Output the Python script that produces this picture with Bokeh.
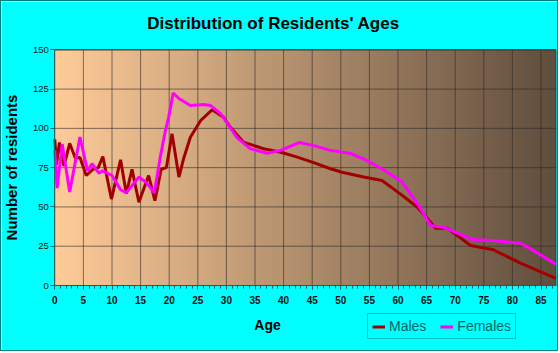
import numpy as np
from bokeh.plotting import figure
from bokeh.models import Range1d, SingleIntervalTicker, Label, Legend, LegendItem, FixedTicker
from bokeh.embed import file_html
from bokeh.resources import INLINE

# ---- data ----
male_ages = [0, 0.3, 0.8, 1.6, 2.6, 3.6, 4.4, 5.5, 6.7, 7.6, 8.4, 9.9, 11.5, 12.5, 13.5,
             14.7, 16.4, 17.5, 18.6, 19.5, 20.5, 21.7, 22.5, 23.7, 25.5, 27.5, 29.5, 30.7,
             33.0, 36.5, 39.5, 42.4, 45.0, 48.2, 50.2, 54.0, 57.2, 60.4, 63.4, 66.6, 68.6,
             72.7, 76.7, 81.4, 87.6]
male_vals = [93, 77, 91, 76, 90.5, 81, 81.5, 70, 74, 75, 82, 55, 80, 58.5, 74,
             53, 70, 54, 74, 75, 96.5, 69, 80.5, 94.3, 105, 111.8, 107, 100.7,
             91.2, 87, 84.8, 81.7, 78.5, 74.3, 72.1, 69, 66.8, 58.3, 49.8, 36.5, 36.5,
             25.5, 22.7, 14.2, 4.5]

female_ages = [0, 0.4, 1.3, 2.6, 4.4, 5.7, 6.5, 7.7, 8.4, 10.0, 11.5, 12.5, 14.7, 16.0,
               17.4, 18.5, 19.4, 19.9, 20.7, 21.7, 23.7, 26.0, 27.2, 29.0, 31.9, 34.2,
               37.1, 39.5, 42.7, 45.3, 48.2, 51.7, 54.0, 57.3, 60.7, 63.4, 65.7, 68.0,
               73.0, 76.7, 81.4, 83.2, 87.6]
female_vals = [86, 62, 90, 59.5, 94.5, 73, 77.5, 71.5, 73, 70, 61, 59, 69, 65.5,
               59, 83, 99.6, 107, 122.5, 119, 114.6, 115.2, 114.6, 109.3, 94, 87,
               84.2, 86, 91, 89, 86, 84, 80.6, 74, 66, 52, 38.2, 37,
               29.3, 28.6, 26.9, 23.3, 13.5]

x_ticks = [0, 5, 10, 15, 20, 25, 30, 35, 40, 45, 50, 55, 60, 65, 70, 75, 80, 85]
y_ticks = [0, 25, 50, 75, 100, 125, 150]
x_max = 87.6
y_max = 150

FONT = "Liberation Sans"

# the frame covers the whole canvas; the plotting area is the 0..x_max, 0..y_max region
W, H = 558, 351
left_px, zero_px = 53.3, 284.0
sx = 5.72
sy = 235.7 / 150
x_start = -left_px / sx
x_end = (W - left_px) / sx
y_end = y_max + (zero_px - 235.7) / sy
y_start = -(H - zero_px) / sy

p = figure(width=W, height=H, output_backend="svg", toolbar_location=None,
           x_range=Range1d(x_start, x_end), y_range=Range1d(y_start, y_end),
           min_border=0, min_border_left=0, min_border_right=0,
           min_border_top=0, min_border_bottom=0)
p.styles = {"border": "1px solid #008080"}
p.background_fill_color = "#00FFFF"
p.border_fill_color = "#00FFFF"
p.outline_line_color = None
p.xgrid.visible = False
p.ygrid.visible = False

# gradient background of the plotting area
NC = 200
c0 = np.array([255, 204, 153], dtype=float)
c1 = np.array([96, 78, 62], dtype=float)
t = np.linspace(0, 1, NC)
cols = (c0[None, :] * (1 - t[:, None]) + c1[None, :] * t[:, None]).astype(np.uint8)
img = np.empty((2, NC), dtype=np.uint32)
view = img.view(dtype=np.uint8).reshape((2, NC, 4))
for r in range(2):
    view[r, :, 0] = cols[:, 0]
    view[r, :, 1] = cols[:, 1]
    view[r, :, 2] = cols[:, 2]
    view[r, :, 3] = 255
p.image_rgba(image=[img], x=0, y=0, dw=x_max, dh=y_max, level="image")

# grid lines limited to the plotting area
GRID = "#2e2a26"
p.segment(x0=x_ticks, y0=[0] * len(x_ticks), x1=x_ticks, y1=[y_max] * len(x_ticks),
          line_color=GRID, line_alpha=0.6, line_width=1, level="underlay")
p.segment(x0=[0] * len(y_ticks), y0=y_ticks, x1=[x_max] * len(y_ticks), y1=y_ticks,
          line_color=GRID, line_alpha=0.6, line_width=1, level="underlay")
p.segment(x0=[x_max], y0=[0], x1=[x_max], y1=[y_max],
          line_color="#3a332c", line_width=1, level="underlay")
p.segment(x0=[0], y0=[y_max], x1=[x_max], y1=[y_max],
          line_color="#3a332c", line_width=1, level="underlay")

# axes at fixed locations
p.xaxis.fixed_location = 0
p.yaxis.fixed_location = 0
p.xaxis.bounds = (0, x_max)
p.yaxis.bounds = (0, y_max)
p.xaxis.ticker = SingleIntervalTicker(interval=5, num_minor_ticks=5)
p.yaxis.ticker = FixedTicker(ticks=y_ticks)
for ax in (p.xaxis, p.yaxis):
    ax.axis_line_color = "#1f5f5f"
    ax.major_tick_line_color = "#1f5f5f"
    ax.minor_tick_line_color = "#1f5f5f"
    ax.major_tick_in = 0
    ax.major_tick_out = 4
    ax.minor_tick_in = 0
    ax.minor_tick_out = 3
    ax.major_label_text_font = FONT
    ax.major_label_text_color = "#111111"
    ax.axis_label_text_font = FONT
    ax.axis_label_text_font_style = "bold"
    ax.axis_label_text_color = "#000000"
p.yaxis.minor_tick_out = 0
p.xaxis.major_label_text_font_size = "10px"
p.xaxis.major_label_text_font_style = "bold"
p.yaxis.major_label_text_font_size = "9.5px"
p.xaxis.major_label_standoff = 6
p.yaxis.major_label_standoff = 2
p.yaxis.axis_label = "Number of residents"
p.yaxis.axis_label_text_font_size = "15px"
p.yaxis.axis_label_standoff = 10

# lines
rm = p.line(male_ages, male_vals, line_color="#A00000", line_width=3)
rf = p.line(female_ages, female_vals, line_color="#FF00FF", line_width=3)

# texts
title = Label(x=(272 - left_px) / sx, y=(zero_px - 22) / sy,
              text="Distribution of Residents' Ages",
              text_font=FONT, text_font_size="17px", text_font_style="bold",
              text_color="#000000", text_align="center", text_baseline="middle")
p.add_layout(title)
age_label = Label(x=(266 - left_px) / sx, y=(zero_px - 323) / sy, text="Age",
                  text_font=FONT, text_font_size="14px", text_font_style="bold",
                  text_color="#000000", text_align="center", text_baseline="middle")
p.add_layout(age_label)

legend = Legend(items=[LegendItem(label="Males", renderers=[rm]),
                       LegendItem(label="Females", renderers=[rf])],
                orientation="horizontal", location=(366, 13))
legend.label_text_font = FONT
legend.label_text_font_size = "14px"
legend.label_text_color = "#006666"
legend.background_fill_color = "#00FFFF"
legend.background_fill_alpha = 1
legend.border_line_color = "#008080"
legend.border_line_width = 1
legend.glyph_width = 13
legend.glyph_height = 15
legend.label_height = 15
legend.label_standoff = 4
legend.spacing = 14
legend.padding = 4
legend.margin = 0
p.add_layout(legend, "center")

open("out.html", "w").write(file_html(p, INLINE))
